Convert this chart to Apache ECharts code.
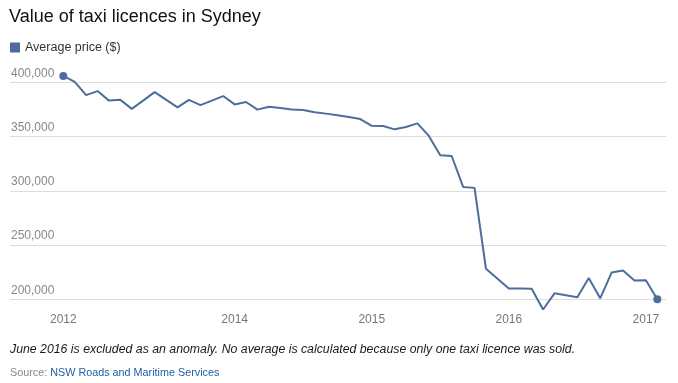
<!DOCTYPE html>
<html>
<head>
<meta charset="utf-8">
<script src="https://cdn.jsdelivr.net/npm/echarts@6/dist/echarts.min.js"></script>
<style>
html,body{margin:0;padding:0;background:#fff;}
#chart{width:678px;height:383px;}
</style>
</head>
<body>
<div id="chart"></div>
<script>
// Months (missing months are null: not reported / excluded)
var months = [
  '2012-10','2012-11','2012-12',
  '2013-01','2013-02','2013-03','2013-04','2013-05','2013-06','2013-07','2013-08','2013-09','2013-10','2013-11','2013-12',
  '2014-01','2014-02','2014-03','2014-04','2014-05','2014-06','2014-07','2014-08','2014-09','2014-10','2014-11','2014-12',
  '2015-01','2015-02','2015-03','2015-04','2015-05','2015-06','2015-07','2015-08','2015-09','2015-10','2015-11','2015-12',
  '2016-01','2016-02','2016-03','2016-04','2016-05','2016-06','2016-07','2016-08','2016-09','2016-10','2016-11','2016-12',
  '2017-01','2017-02'
];
var averagePrice = [
  406000, 400500, 388300,
  392000, 383200, 383900, 375600, null, 391000, null, 377000, 383900, 379100, null, 387400,
  379700, 381900, 374900, 377600, 376300, 374900, 374500, 372400, 371200, 369600, 368000, 366200,
  359900, 359800, 356700, 358800, 362200, 350600, 332800, 332100, 303600, 302700, 228100, null,
  209800, 209900, 209600, 190500, 205400, null, 201700, 219500, 200800, 224600, 226400, 217200,
  217500, 200000
];
var tickMonths = ['2012-10', '2014-01', '2015-01', '2016-01', '2017-01'];
var tickLabels = ['2012', '2014', '2015', '2016', '2017'];
var yTicks = [200000, 250000, 300000, 350000, 400000];

var lineColor = '#4d6d9d';
var chart = echarts.init(document.getElementById('chart'), null, {renderer: 'canvas'});
var lastIdx = averagePrice.length - 1;
var fontFam = '"Liberation Sans", Arial, sans-serif';

var option = {
  animation: false,
  title: {
    text: 'Value of taxi licences in Sydney',
    left: 9, top: 8, padding: 0,
    textStyle: {fontFamily: fontFam, fontSize: 18, fontWeight: 'normal', color: '#111'}
  },
  legend: {
    left: 10, top: 41, padding: 0,
    icon: 'rect', itemWidth: 10, itemHeight: 10, itemGap: 5,
    textStyle: {fontFamily: fontFam, fontSize: 12.5, color: '#333'},
    data: ['Average price ($)']
  },
  grid: [
    {left: 10, right: 12, top: 82.4, bottom: 83.8},
    {left: 63.3, right: 20.7, top: 82.4, bottom: 83.8}
  ],
  xAxis: [
    {type: 'value', gridIndex: 0, show: false, min: 0, max: 1},
    {
      type: 'category', gridIndex: 1, data: months, boundaryGap: false,
      axisLine: {show: false}, axisTick: {show: false}, splitLine: {show: false},
      axisLabel: {
        interval: 0, margin: 14, fontFamily: fontFam, fontSize: 12, color: '#777',
        formatter: function (v) {
          var i = tickMonths.indexOf(v);
          return i >= 0 ? tickLabels[i] : '';
        }
      }
    }
  ],
  yAxis: [
    {
      type: 'value', gridIndex: 0, min: yTicks[0], max: yTicks[yTicks.length - 1], interval: 50000,
      axisLine: {show: false}, axisTick: {show: false},
      splitLine: {lineStyle: {color: '#dddddd', width: 1}},
      axisLabel: {
        inside: true, margin: 1, verticalAlign: 'bottom', padding: [0, 0, 3, 0],
        fontFamily: fontFam, fontSize: 12, color: '#888',
        formatter: function (v) { return v.toLocaleString('en-US'); }
      }
    },
    {
      type: 'value', gridIndex: 1, min: yTicks[0], max: yTicks[yTicks.length - 1], interval: 50000,
      show: false, splitLine: {show: false}
    }
  ],
  series: [{
    name: 'Average price ($)',
    type: 'line',
    xAxisIndex: 1, yAxisIndex: 1,
    data: averagePrice,
    connectNulls: true,
    clip: false,
    showSymbol: true,
    symbol: 'circle',
    symbolSize: function (v, p) { return (p.dataIndex === 0 || p.dataIndex === lastIdx) ? 8 : 0; },
    itemStyle: {color: lineColor},
    lineStyle: {color: lineColor, width: 2}
  }],
  graphic: [
    {
      type: 'text', left: 10, top: 344,
      style: {
        text: 'June 2016 is excluded as an anomaly. No average is calculated because only one taxi licence was sold.',
        font: 'italic 12.3px "Liberation Sans", Arial, sans-serif', fill: '#1a1a1a'
      }
    },
    {
      type: 'text', left: 10, top: 368,
      style: {
        text: '{a|Source: }{b|NSW Roads and Maritime Services}',
        rich: {
          a: {fontFamily: fontFam, fontSize: 10.8, fill: '#888', color: '#888'},
          b: {fontFamily: fontFam, fontSize: 10.8, fill: '#1f5fa6', color: '#1f5fa6'}
        }
      }
    }
  ]
};
chart.setOption(option);
</script>
</body>
</html>
